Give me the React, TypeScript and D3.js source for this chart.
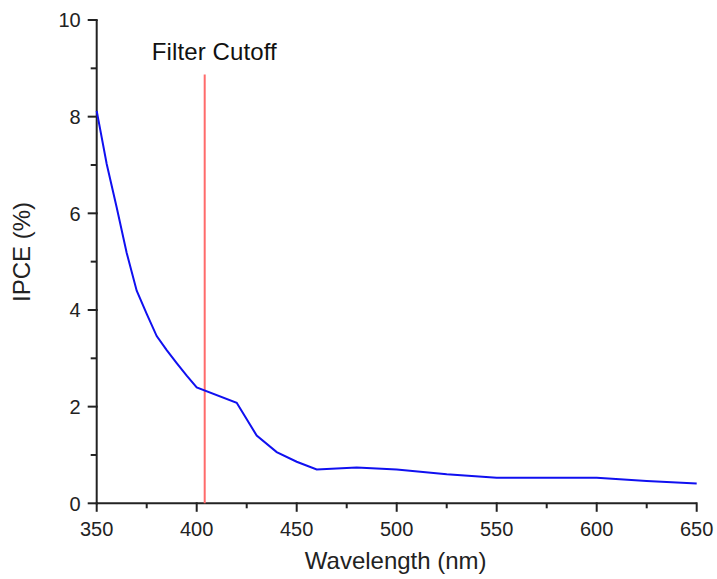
import React, { useEffect, useRef } from "react";
import * as d3 from "d3";

// IPCE spectrum
const wavelengths = [350, 355, 360, 365, 370, 375, 380, 385, 390, 395, 400, 420, 430, 440, 450, 460, 480, 500, 525, 550, 600, 625, 650];
const ipce = [8.12, 7.02, 6.12, 5.18, 4.4, 3.92, 3.46, 3.17, 2.9, 2.64, 2.4, 2.08, 1.4, 1.06, 0.86, 0.7, 0.74, 0.7, 0.6, 0.53, 0.53, 0.46, 0.41];

const xTicks = [350, 400, 450, 500, 550, 600, 650];
const yTicks = [0, 2, 4, 6, 8, 10];

const cutoffWavelength = 404;
const cutoffTop = 8.87;
const cutoffLabel = "Filter Cutoff";

const App = () => {
  const svgRef = useRef<SVGSVGElement>(null);

  useEffect(() => {
    const svg = d3.select(svgRef.current);
    svg.selectAll("*").remove();

    const w = 717;
    const h = 579;
    const m = { top: 20, right: 20.3, bottom: 75.7, left: 96.7 };

    const x = d3.scaleLinear().domain([350, 650]).range([m.left, w - m.right]);
    const y = d3.scaleLinear().domain([0, 10]).range([h - m.bottom, m.top]);

    const font = "'Liberation Sans', Arial, sans-serif";
    const axisColor = "#222";

    // minor ticks
    const xMinor = d3.range(375, 650, 50);
    const yMinor = d3.range(1, 10, 2);

    const gx = svg.append("g").attr("transform", `translate(0,${y(0)})`);
    gx.append("line")
      .attr("x1", x(350)).attr("x2", x(650))
      .attr("stroke", axisColor).attr("stroke-width", 2);
    gx.selectAll(".maj").data(xTicks).join("line")
      .attr("x1", (d) => x(d)).attr("x2", (d) => x(d))
      .attr("y1", -1).attr("y2", 8.5)
      .attr("stroke", axisColor).attr("stroke-width", 2);
    gx.selectAll(".min").data(xMinor).join("line")
      .attr("x1", (d) => x(d)).attr("x2", (d) => x(d))
      .attr("y1", 0).attr("y2", 5)
      .attr("stroke", axisColor).attr("stroke-width", 2);
    gx.selectAll("text").data(xTicks).join("text")
      .attr("x", (d) => x(d)).attr("y", 33)
      .attr("text-anchor", "middle")
      .attr("font-family", font).attr("font-size", 20)
      .attr("fill", axisColor)
      .text((d) => d);

    const gy = svg.append("g").attr("transform", `translate(${x(350)},0)`);
    gy.append("line")
      .attr("y1", y(0) + 1).attr("y2", y(10))
      .attr("stroke", axisColor).attr("stroke-width", 2);
    gy.selectAll(".maj").data(yTicks).join("line")
      .attr("y1", (d) => y(d)).attr("y2", (d) => y(d))
      .attr("x1", 1).attr("x2", -9)
      .attr("stroke", axisColor).attr("stroke-width", 2);
    gy.selectAll(".min").data(yMinor).join("line")
      .attr("y1", (d) => y(d)).attr("y2", (d) => y(d))
      .attr("x1", 0).attr("x2", -6)
      .attr("stroke", axisColor).attr("stroke-width", 2);
    gy.selectAll("text").data(yTicks).join("text")
      .attr("x", -16).attr("y", (d) => y(d))
      .attr("dy", "0.36em")
      .attr("text-anchor", "end")
      .attr("font-family", font).attr("font-size", 20)
      .attr("fill", axisColor)
      .text((d) => d);

    // axis titles
    svg.append("text")
      .attr("x", (x(350) + x(650)) / 2 - 1)
      .attr("y", 569)
      .attr("text-anchor", "middle")
      .attr("font-family", font).attr("font-size", 24)
      .attr("fill", axisColor)
      .text("Wavelength (nm)");
    svg.append("text")
      .attr("transform", `translate(30,252) rotate(-90)`)
      .attr("text-anchor", "middle")
      .attr("font-family", font).attr("font-size", 24)
      .attr("fill", axisColor)
      .text("IPCE (%)");

    // filter cutoff
    svg.append("line")
      .attr("x1", x(cutoffWavelength)).attr("x2", x(cutoffWavelength))
      .attr("y1", y(0)).attr("y2", y(cutoffTop))
      .attr("stroke", "#ff6b6b").attr("stroke-width", 2);
    svg.append("text")
      .attr("x", x(cutoffWavelength) - 53)
      .attr("y", 60)
      .attr("text-anchor", "start")
      .attr("textLength", 125)
      .attr("font-family", font).attr("font-size", 24)
      .attr("fill", "#111")
      .text(cutoffLabel);

    const line = d3.line<number>()
      .x((d, i) => x(wavelengths[i]))
      .y((d) => y(d));

    svg.append("path")
      .datum(ipce)
      .attr("d", line)
      .attr("fill", "none")
      .attr("stroke", "#1010f0")
      .attr("stroke-width", 2);
  }, []);

  return (
    <div style={{ position: "absolute", left: 0, top: 0 }}>
      <svg ref={svgRef} width={717} height={579} style={{ display: "block", background: "#fff" }}></svg>
    </div>
  );
};

export default App;
